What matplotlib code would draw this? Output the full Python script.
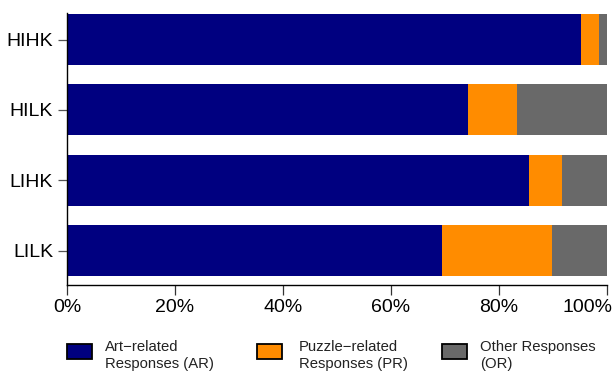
import numpy as np
import matplotlib
matplotlib.use("Agg")
import matplotlib.pyplot as plt
import matplotlib.transforms as mtransforms
from matplotlib.patches import Rectangle

plt.rcParams['font.family'] = ['Liberation Sans', 'DejaVu Sans']

# response shares per condition (percent), bottom row first
groups = ['LILK', 'LIHK', 'HILK', 'HIHK']
art = [69.4, 85.6, 74.3, 95.2]
puzzle = [20.4, 6.1, 9.1, 3.3]
other = [10.2, 8.3, 16.6, 1.5]

series_labels = ['Art\u2212related\nResponses (AR)',
                 'Puzzle\u2212related\nResponses (PR)',
                 'Other Responses\n(OR)']
colors = ['#000080', '#FF8C00', '#696969']
pct_ticks = [0, 20, 40, 60, 80, 100]

W, H = 613, 381
fig = plt.figure(figsize=(W / 100, H / 100), dpi=100)
ax = fig.add_axes([67 / W, (H - 285) / H, 540 / W, 272 / H])

y = np.arange(len(groups))
left = np.zeros(len(groups))
for vals, col in zip([art, puzzle, other], colors):
    ax.barh(y, vals, left=left, height=0.725, color=col, linewidth=0)
    left += np.array(vals)

ax.set_xlim(0, 100)
ax.set_ylim(-0.49, 3.377)
ax.set_xticks(pct_ticks)
ax.set_xticklabels(['%d%%' % t for t in pct_ticks])
ax.set_yticks(y)
ax.set_yticklabels(groups)

for s in ['top', 'right']:
    ax.spines[s].set_visible(False)
for s in ['left', 'bottom']:
    ax.spines[s].set_linewidth(1.0)
    ax.spines[s].set_color('black')

ax.tick_params(axis='x', length=7.2, width=0.9, color='#333333', pad=3,
               labelsize=14)
ax.tick_params(axis='y', length=6.5, width=0.9, color='#555555', pad=3.5,
               labelsize=14)

# keep the last percent label inside the figure
last = ax.get_xticklabels()[-1]
last.set_horizontalalignment('right')
last.set_transform(last.get_transform() +
                   mtransforms.ScaledTranslation(5 / 100, 0, fig.dpi_scale_trans))

# legend row under the axis
box_x = [67, 257, 442]
text_x = [105, 299, 480]
for bx, tx, col, lab in zip(box_x, text_x, colors, series_labels):
    fig.patches.append(Rectangle((bx / W, (H - 359) / H), 25 / W, 15 / H,
                                 transform=fig.transFigure, facecolor=col,
                                 edgecolor='black', linewidth=1.3))
    fig.text(tx / W, (H - 340) / H, lab, fontsize=10.7, va='top', ha='left',
             linespacing=1.3, color='#222222')

fig.savefig('out.png', dpi=100)
